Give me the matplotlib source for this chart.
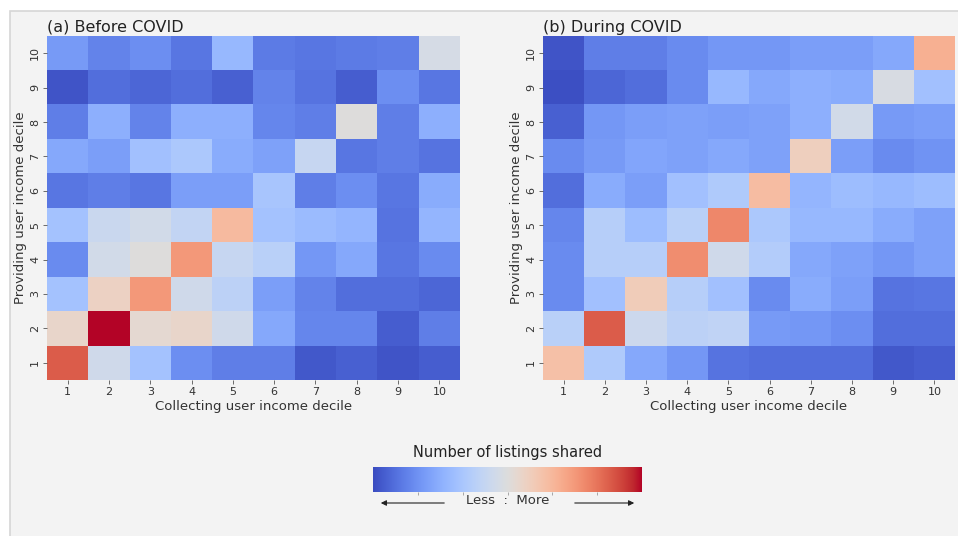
import numpy as np
import matplotlib
matplotlib.use('Agg')
import matplotlib.pyplot as plt
from matplotlib.patches import Rectangle, FancyArrowPatch

deciles = [str(i) for i in range(1, 11)]

# rows: providing decile 1..10 (bottom to top), cols: collecting decile 1..10
before = np.array([
    [0.88, 0.45, 0.32, 0.16, 0.12, 0.12, 0.03, 0.05, 0.02, 0.04],  # 1
    [0.55, 1.00, 0.53, 0.55, 0.45, 0.23, 0.14, 0.14, 0.04, 0.12],  # 2
    [0.32, 0.57, 0.75, 0.45, 0.39, 0.20, 0.13, 0.08, 0.08, 0.06],  # 3
    [0.15, 0.46, 0.50, 0.75, 0.42, 0.38, 0.18, 0.23, 0.10, 0.15],  # 4
    [0.32, 0.43, 0.46, 0.41, 0.66, 0.32, 0.29, 0.27, 0.09, 0.27],  # 5
    [0.10, 0.12, 0.10, 0.20, 0.20, 0.33, 0.12, 0.16, 0.10, 0.24],  # 6
    [0.23, 0.20, 0.31, 0.34, 0.24, 0.21, 0.42, 0.10, 0.12, 0.09],  # 7
    [0.12, 0.25, 0.13, 0.25, 0.25, 0.14, 0.12, 0.50, 0.12, 0.25],  # 8
    [0.02, 0.08, 0.06, 0.08, 0.05, 0.13, 0.09, 0.04, 0.16, 0.10],  # 9
    [0.19, 0.13, 0.16, 0.10, 0.28, 0.11, 0.10, 0.11, 0.12, 0.47],  # 10
])

during = np.array([
    [0.64, 0.35, 0.23, 0.18, 0.09, 0.08, 0.08, 0.08, 0.03, 0.04],  # 1
    [0.38, 0.88, 0.44, 0.39, 0.40, 0.19, 0.18, 0.16, 0.08, 0.08],  # 2
    [0.15, 0.31, 0.59, 0.37, 0.31, 0.15, 0.24, 0.20, 0.09, 0.10],  # 3
    [0.15, 0.37, 0.37, 0.78, 0.45, 0.36, 0.23, 0.21, 0.18, 0.21],  # 4
    [0.14, 0.37, 0.30, 0.38, 0.79, 0.34, 0.28, 0.28, 0.24, 0.21],  # 5
    [0.08, 0.24, 0.20, 0.31, 0.35, 0.65, 0.27, 0.30, 0.28, 0.30],  # 6
    [0.15, 0.19, 0.22, 0.21, 0.23, 0.21, 0.58, 0.20, 0.15, 0.17],  # 7
    [0.05, 0.18, 0.20, 0.21, 0.20, 0.21, 0.25, 0.46, 0.19, 0.20],  # 8
    [0.01, 0.06, 0.08, 0.15, 0.28, 0.23, 0.25, 0.24, 0.48, 0.31],  # 9
    [0.02, 0.12, 0.12, 0.15, 0.18, 0.18, 0.20, 0.20, 0.23, 0.69],  # 10
])

titles = ['(a) Before COVID', '(b) During COVID']
text_col = '#333333'

fig = plt.figure(figsize=(9.58, 5.36), dpi=100)
fig.patch.set_facecolor('white')
fig.patches.append(Rectangle((10 / 958, -0.01), 1, 1.01 - 11 / 536,
                             transform=fig.transFigure, facecolor='#f3f3f3',
                             edgecolor='#d6d6d6', linewidth=1.2, zorder=-10))

positions = [[47 / 958, 0.291, 413 / 958, 0.642],
             [543 / 958, 0.291, 412 / 958, 0.642]]

for pos, data, title in zip(positions, [before, during], titles):
    ax = fig.add_axes(pos)
    ax.set_facecolor('none')
    ax.imshow(data, cmap='coolwarm', vmin=0, vmax=1, origin='lower',
              aspect='auto', extent=(0.5, 10.5, 0.5, 10.5))
    ax.set_xticks(range(1, 11))
    ax.set_yticks(range(1, 11))
    ax.set_xticklabels(deciles, fontsize=8, color=text_col)
    ax.set_yticklabels(deciles, fontsize=8, color=text_col, rotation=90,
                       va='center')
    ax.tick_params(length=3, width=0.6, color='#555555', pad=2)
    for s in ax.spines.values():
        s.set_visible(False)
    ax.set_xlabel('Collecting user income decile', fontsize=9.5,
                  color=text_col, labelpad=2)
    ax.set_ylabel('Providing user income decile', fontsize=9.5,
                  color=text_col, labelpad=2)
    ax.set_title(title, loc='left', fontsize=11.5, color='#222222', pad=3)

# colour bar
cax = fig.add_axes([373 / 958, 1 - 492 / 536, 269 / 958, 25 / 536])
grad = np.linspace(0, 1, 256).reshape(1, -1)
cax.imshow(grad, cmap='coolwarm', aspect='auto', extent=(0, 1, 0, 1))
cax.set_xticks(np.linspace(0, 1, 7)[1:-1])
cax.set_xticklabels([])
cax.tick_params(axis='x', length=2, width=0.5, color='#888888')
cax.set_yticks([])
for s in cax.spines.values():
    s.set_visible(False)
fig.text(508 / 958, 1 - 452 / 536, 'Number of listings shared',
         ha='center', va='center', fontsize=10.5, color='#222222')
fig.text(508 / 958, 1 - 500 / 536, 'Less  :  More',
         ha='center', va='center', fontsize=9.5, color='#333333')
for x0, x1 in [(447, 378), (572, 637)]:
    arr = FancyArrowPatch((x0 / 958, 1 - 503 / 536), (x1 / 958, 1 - 503 / 536),
                          transform=fig.transFigure, arrowstyle='-|>',
                          mutation_scale=8, color='#222222', linewidth=0.8)
    fig.patches.append(arr)

fig.savefig('out.png', dpi=100, facecolor=fig.get_facecolor())
